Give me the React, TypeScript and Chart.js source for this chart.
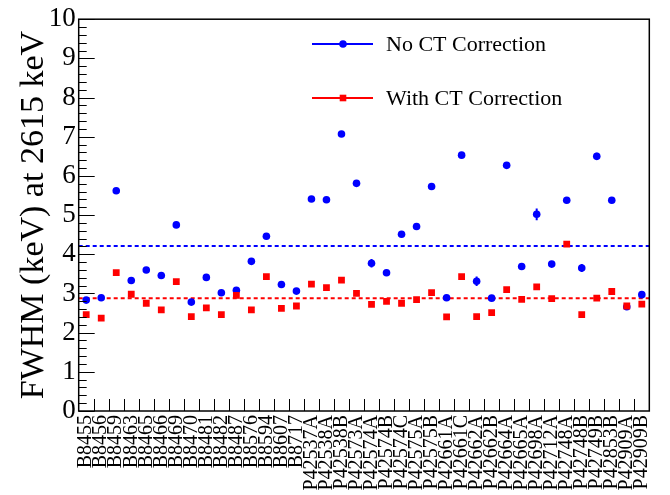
import React, { useEffect, useRef } from "react";
import { Chart, registerables } from "chart.js";
Chart.register(...registerables);

const categories = [
  "B8455", "B8456", "B8459", "B8463", "B8465", "B8466", "B8469", "B8470",
  "B8481", "B8482", "B8487", "B8576", "B8594", "B8607", "B8717",
  "P42537A", "P42538A", "P42538B", "P42573A", "P42574A", "P42574B", "P42574C",
  "P42575A", "P42575B", "P42661A", "P42661C", "P42662A", "P42662B", "P42664A",
  "P42665A", "P42698A", "P42712A", "P42748A", "P42748B", "P42749B", "P42853B",
  "P42909A", "P42909B",
];

const fwhmNoCT = [
  2.83, 2.89, 5.62, 3.33, 3.60, 3.46, 4.75, 2.78,
  3.41, 3.02, 3.08, 3.82, 4.46, 3.23, 3.06,
  5.41, 5.39, 7.07, 5.81, 3.77, 3.53, 4.51,
  4.71, 5.73, 2.89, 6.53, 3.31, 2.88, 6.27,
  3.69, 5.02, 3.75, 5.38, 3.65, 6.50, 5.38,
  2.66, 2.97,
];

const fwhmWithCT = [
  2.46, 2.37, 3.53, 2.98, 2.75, 2.58, 3.30, 2.41,
  2.63, 2.46, 2.95, 2.58, 3.43, 2.62, 2.68,
  3.24, 3.15, 3.34, 3.00, 2.72, 2.80, 2.75,
  2.84, 3.02, 2.40, 3.43, 2.41, 2.51, 3.10,
  2.85, 3.17, 2.87, 4.26, 2.46, 2.88, 3.05,
  2.68, 2.73,
];

const errNoCT = [
  0.03, 0.03, 0.04, 0.03, 0.03, 0.03, 0.04, 0.03,
  0.03, 0.03, 0.03, 0.04, 0.04, 0.03, 0.03,
  0.04, 0.04, 0.05, 0.04, 0.11, 0.04, 0.04,
  0.04, 0.04, 0.03, 0.05, 0.12, 0.03, 0.05,
  0.04, 0.15, 0.04, 0.04, 0.10, 0.09, 0.04,
  0.03, 0.03,
];

const seriesLabels = ["No CT Correction", "With CT Correction"];
const yAxisTitle = "FWHM (keV) at 2615 keV";
const yMin = 0;
const yMax = 10;

const BLUE = "#0000ff";
const RED = "#ff0000";
const SERIF = "'Liberation Serif', 'DejaVu Serif', serif";

const mean = (a: number[]) => a.reduce((s, v) => s + v, 0) / a.length;
const meanNoCT = mean(fwhmNoCT);
const meanWithCT = mean(fwhmWithCT);

const rootStyle = {
  id: "rootStyle",
  beforeDatasetsDraw(chart: any) {
    const { ctx, chartArea: ca, scales } = chart;
    const x = scales.x;
    const y = scales.y;
    ctx.save();
    ctx.beginPath();
    ctx.rect(ca.left, ca.top, ca.right - ca.left, ca.bottom - ca.top);
    ctx.clip();
    const lines: [number, string][] = [
      [meanNoCT, BLUE],
      [meanWithCT, RED],
    ];
    lines.forEach(([m, c]) => {
      const py = y.getPixelForValue(m);
      ctx.strokeStyle = c;
      ctx.lineWidth = 2;
      ctx.setLineDash([4, 3]);
      ctx.beginPath();
      ctx.moveTo(ca.left, py);
      ctx.lineTo(ca.right, py);
      ctx.stroke();
    });
    ctx.setLineDash([]);
    errNoCT.forEach((e, i) => {
      const px = x.getPixelForValue(i);
      ctx.strokeStyle = BLUE;
      ctx.lineWidth = 2;
      ctx.beginPath();
      ctx.moveTo(px, y.getPixelForValue(fwhmNoCT[i] - e));
      ctx.lineTo(px, y.getPixelForValue(fwhmNoCT[i] + e));
      ctx.stroke();
    });
    ctx.restore();
  },
  afterDraw(chart: any) {
    const { ctx, chartArea: ca, scales } = chart;
    const x = scales.x;
    const y = scales.y;
    ctx.save();
    ctx.strokeStyle = "#000";
    ctx.lineWidth = 1;
    for (let k = 0; k <= (yMax - yMin) * 5; k++) {
      const v = yMin + k * 0.2;
      const py = Math.round(y.getPixelForValue(v)) + 0.5;
      const major = k % 5 === 0;
      ctx.beginPath();
      ctx.moveTo(ca.left, py);
      ctx.lineTo(ca.left + (major ? 16 : 8), py);
      ctx.stroke();
    }
    for (let i = 0; i < categories.length - 1; i++) {
      const bx = Math.round((x.getPixelForValue(i) + x.getPixelForValue(i + 1)) / 2) + 0.5;
      ctx.beginPath();
      ctx.moveTo(bx, ca.bottom);
      ctx.lineTo(bx, ca.bottom - 12);
      ctx.stroke();
    }
    ctx.lineWidth = 1.5;
    ctx.strokeStyle = "#000";
    ctx.strokeRect(ca.left, ca.top, ca.right - ca.left, ca.bottom - ca.top);
    const items = [
      { label: seriesLabels[0], color: BLUE, style: "circle", yy: 44 },
      { label: seriesLabels[1], color: RED, style: "rect", yy: 98 },
    ];
    items.forEach((it) => {
      ctx.strokeStyle = it.color;
      ctx.fillStyle = it.color;
      ctx.lineWidth = 2;
      ctx.beginPath();
      ctx.moveTo(312, it.yy);
      ctx.lineTo(373, it.yy);
      ctx.stroke();
      if (it.style === "circle") {
        ctx.beginPath();
        ctx.arc(343, it.yy, 3.8, 0, Math.PI * 2);
        ctx.fill();
      } else {
        ctx.fillRect(343 - 3.3, it.yy - 3.3, 6.6, 6.6);
      }
      ctx.fillStyle = "#000";
      ctx.font = `22px ${SERIF}`;
      ctx.textAlign = "left";
      ctx.textBaseline = "middle";
      ctx.fillText(it.label, 386, it.yy + 1);
    });
    ctx.restore();
  },
};

export default function App() {
  const ref = useRef<HTMLCanvasElement>(null);
  useEffect(() => {
    if (!ref.current) return;
    const chart = new Chart(ref.current, {
      type: "line",
      data: {
        labels: categories,
        datasets: [
          {
            label: seriesLabels[0],
            data: fwhmNoCT,
            showLine: false,
            pointStyle: "circle",
            pointRadius: 3.8,
            pointBackgroundColor: BLUE,
            pointBorderColor: BLUE,
            pointBorderWidth: 0,
            borderColor: BLUE,
            backgroundColor: BLUE,
            order: 1,
          },
          {
            label: seriesLabels[1],
            data: fwhmWithCT,
            showLine: false,
            pointStyle: "rect",
            pointRadius: 4.8,
            pointBackgroundColor: RED,
            pointBorderColor: RED,
            pointBorderWidth: 0,
            borderColor: RED,
            backgroundColor: RED,
            order: 0,
          },
        ],
      },
      options: {
        responsive: false,
        animation: false,
        events: [],
        layout: { padding: { top: 15, right: 15, left: 0, bottom: 0 } },
        plugins: { legend: { display: false }, tooltip: { enabled: false } },
        scales: {
          x: {
            type: "category",
            offset: true,
            grid: { display: false, drawTicks: false, tickLength: 0 },
            border: { display: false },
            ticks: {
              autoSkip: false,
              maxRotation: 90,
              minRotation: 90,
              padding: 4,
              color: "#000",
              font: { family: SERIF, size: 20 },
            },
            afterFit: (s: any) => {
              s.height = 84;
            },
          },
          y: {
            min: yMin,
            max: yMax,
            grid: { display: false, drawTicks: false, tickLength: 0 },
            border: { display: false },
            ticks: {
              stepSize: 1,
              padding: 3,
              color: "#000",
              font: { family: SERIF, size: 27 },
            },
            title: {
              display: true,
              text: yAxisTitle,
              color: "#000",
              font: { family: SERIF, size: 34, weight: "normal" },
              padding: { top: 14, bottom: 0 },
            },
            afterFit: (s: any) => {
              s.width = 78.7;
            },
          },
        },
      },
      plugins: [rootStyle],
    });
    return () => chart.destroy();
  }, []);
  return (
    <div style={{ position: "fixed", left: 0, top: 0, width: 670, height: 495, background: "#fff" }}>
      <canvas ref={ref} width={670} height={495} />
    </div>
  );
}
